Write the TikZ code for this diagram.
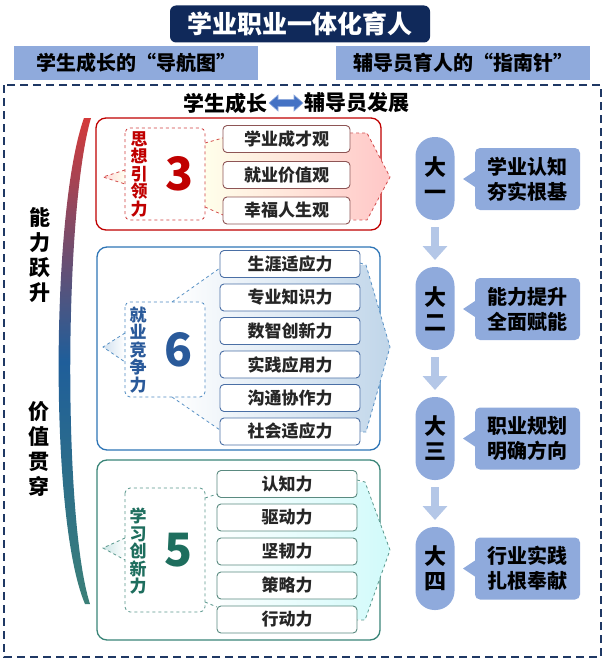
\documentclass[tikz,border=0pt]{standalone}
\usepackage{fontspec}
\setmainfont{Noto Sans CJK SC}
\usetikzlibrary{arrows.meta,calc}
\definecolor{navy}{HTML}{10295A}
\definecolor{frameblue}{HTML}{1F3864}
\definecolor{lblue}{HTML}{8FAADC}
\definecolor{llblue}{HTML}{B4C7E7}
\definecolor{arrblue}{HTML}{4472C4}
\definecolor{gred}{HTML}{C00000}
\definecolor{bred}{HTML}{D43A3A}
\definecolor{bmid}{HTML}{1F5E9A}
\definecolor{bbot}{HTML}{3C8078}
\definecolor{gblue}{HTML}{2E75B6}
\definecolor{gbluet}{HTML}{2A5A9A}
\definecolor{gteal}{HTML}{3A8578}
\definecolor{gtealt}{HTML}{1E6E5E}
\definecolor{ired}{HTML}{8E5555}
\definecolor{iblue}{HTML}{4A6FA5}
\definecolor{iteal}{HTML}{5A8A80}
\definecolor{txt}{HTML}{262626}
\begin{document}
\begin{tikzpicture}[x=1pt,y=-1pt,
  every node/.style={inner sep=0pt, outer sep=0pt},
  grp/.style={draw, line width=1.3pt, rounded corners=10pt, fill=white},
  inbox/.style={draw, dashed, line width=0.8pt, rounded corners=5pt},
  item/.style={draw, line width=0.9pt, rounded corners=4pt, fill=white, minimum height=27pt, text=txt, font=\fontsize{17}{20}\selectfont\bfseries},
  vtext/.style={align=center, font=\fontsize{17}{17.5}\selectfont\bfseries},
  bigdigit/.style={font=\fontsize{46}{50}\selectfont\bfseries},
  edash/.style={dashed, line width=0.8pt},
  pill/.style={fill=lblue, rounded corners=19pt, minimum width=39pt, minimum height=83pt, align=center, font=\fontsize{22}{25}\selectfont\bfseries},
  callout/.style={fill=lblue, rounded corners=5pt, minimum width=105pt, minimum height=62pt, align=center, font=\fontsize{20}{25}\selectfont\bfseries},
  downarr/.style={draw=llblue, line width=8pt, -{Triangle[width=24pt,length=14pt]}, shorten <=7pt, shorten >=7pt},
  sidetext/.style={align=center, font=\fontsize{21}{25}\selectfont\bfseries}
]
\useasboundingbox (0,0) rectangle (605,661);

% ---------- top ----------
\node[fill=navy, rounded corners=6pt, minimum width=260pt, minimum height=37pt, text=white, font=\fontsize{25}{28}\selectfont\bfseries] (title) at (300,24) {学业职业一体化育人};
\node[fill=lblue, minimum width=244pt, minimum height=34pt, font=\fontsize{20}{24}\selectfont\bfseries] (s1) at (136,63) {学生成长的“导航图”};
\node[fill=lblue, minimum width=254pt, minimum height=34pt, font=\fontsize{20}{24}\selectfont\bfseries] (s2) at (463,63) {辅导员育人的“指南针”};

\draw[frameblue, line width=2.2pt, dash pattern=on 8pt off 5pt] (4,85) rectangle (601,657);

\node[font=\fontsize{21}{24}\selectfont\bfseries, anchor=east] (hl) at (267,103) {学生成长};
\node[font=\fontsize{21}{24}\selectfont\bfseries, anchor=west] (hr) at (304,103) {辅导员发展};
\fill[arrblue, draw=lblue, line width=0.6pt]
  (269,103) -- (278,95) -- (278,99.5) -- (294,99.5) -- (294,95) -- (303,103)
  -- (294,111) -- (294,106.5) -- (278,106.5) -- (278,111) -- cycle;

% ---------- bracket ----------
\shade[top color=bred, bottom color=bbot, middle color=bmid]
  (84,118) .. controls (51,210) and (49,520) .. (85,604) -- (90,604) .. controls (63,520) and (64,210) .. (91,118) -- cycle;
\node[sidetext] (cap1) at (40,255) {能\\力\\跃\\升};
\node[sidetext] (cap2) at (39,449) {价\\值\\贯\\穿};

% ---------- group 1 ----------
\draw[grp, draw=gred] (96,118) rectangle (381,230);
\shade[left color=yellow!8!white, right color=red!22!white]
  (205,143) -- (223,137) -- (367,133) -- (390,177) -- (367,220) -- (223,215) -- (205,207) -- cycle;
\shade[left color=red!15!white, right color=yellow!6!white] (103,177) -- (125,170) -- (125,184) -- cycle;
\draw[edash, draw=gred!70!white] (125,170) -- (103,177) -- (125,184);
\draw[edash, draw=gred!70!white] (205,143) -- (223,138);
\draw[edash, draw=gred!70!white] (205,207) -- (223,215);
\draw[edash, draw=gred!70!white] (350,133) -- (367,133) -- (390,177) -- (367,220) -- (350,220);
\draw[inbox, draw=gred!75!white, fill=white] (125,128) rectangle (205,220);
\node[vtext, text=gred] (v1) at (139,174) {思\\想\\引\\领\\力};
\node[bigdigit, text=gred] (d1) at (180,174) {3};
\node[item, draw=ired, minimum width=127pt] (a1) at (286.5,139) {学业成才观};
\node[item, draw=ired, minimum width=127pt] (a2) at (286.5,175) {就业价值观};
\node[item, draw=ired, minimum width=127pt] (a3) at (286.5,210.5) {幸福人生观};

% ---------- group 2 ----------
\draw[grp, draw=gblue] (97,247) rectangle (380,450);
\shade[left color=white, right color=gblue!30!white]
  (172,302) -- (220,268) -- (366,265) -- (390,347) -- (366,432) -- (220,430) -- (172,397) -- cycle;
\shade[left color=gblue!22!white, right color=white] (103,347) -- (125,333) -- (125,362) -- cycle;
\draw[edash, draw=gblue!80!white] (125,333) -- (103,347) -- (125,362);
\draw[edash, draw=gblue!80!white] (172,302) -- (220,268);
\draw[edash, draw=gblue!80!white] (172,397) -- (220,430);
\draw[edash, draw=gblue!80!white] (360,263) -- (366,265) -- (390,347) -- (366,432) -- (360,432);
\draw[inbox, draw=gblue!85!white, fill=white] (125,302) rectangle (205,397);
\node[vtext, text=gbluet] (v2) at (138,350) {就\\业\\竞\\争\\力};
\node[bigdigit, text=gbluet] (d2) at (179,350) {6};
\node[item, draw=iblue, minimum width=140pt] (b1) at (290,264) {生涯适应力};
\node[item, draw=iblue, minimum width=140pt] (b2) at (290,297.5) {专业知识力};
\node[item, draw=iblue, minimum width=140pt] (b3) at (290,331) {数智创新力};
\node[item, draw=iblue, minimum width=140pt] (b4) at (290,364.5) {实践应用力};
\node[item, draw=iblue, minimum width=140pt] (b5) at (290,398) {沟通协作力};
\node[item, draw=iblue, minimum width=140pt] (b6) at (290,431.5) {社会适应力};

% ---------- group 3 ----------
\draw[grp, draw=gteal] (97,460) rectangle (380,640);
\shade[left color=white, right color=teal!22!cyan!18!white]
  (205,498) -- (217,494) -- (365,482) -- (390,550) -- (365,620) -- (217,607) -- (205,602) -- cycle;
\shade[left color=teal!20!white, right color=white] (103,548) -- (125,538) -- (125,560) -- cycle;
\draw[edash, draw=gteal!85!white] (125,538) -- (103,548) -- (125,560);
\draw[edash, draw=gteal!85!white] (205,498) -- (217,494);
\draw[edash, draw=gteal!85!white] (205,602) -- (217,607);
\draw[edash, draw=gteal!85!white] (357,480) -- (365,482) -- (390,550) -- (365,620) -- (357,620);
\draw[inbox, draw=gteal!85!white, fill=white] (125,488) rectangle (205,612);
\node[vtext, text=gtealt] (v3) at (138,551) {学\\习\\创\\新\\力};
\node[bigdigit, text=gtealt] (d3) at (179,550) {5};
\node[item, draw=iteal, minimum width=140pt] (c1) at (287,484) {认知力};
\node[item, draw=iteal, minimum width=140pt] (c2) at (287,517.5) {驱动力};
\node[item, draw=iteal, minimum width=140pt] (c3) at (287,551.5) {坚韧力};
\node[item, draw=iteal, minimum width=140pt] (c4) at (287,585.5) {策略力};
\node[item, draw=iteal, minimum width=140pt] (c5) at (287,619.5) {行动力};

% ---------- right column ----------
\node[pill] (y1) at (435,178.5) {大\\一};
\node[pill] (y2) at (435,308.5) {大\\二};
\node[pill] (y3) at (435,438.5) {大\\三};
\node[pill] (y4) at (435,568.5) {大\\四};
\draw[downarr] (y1) -- (y2);
\draw[downarr] (y2) -- (y3);
\draw[downarr] (y3) -- (y4);

\node[callout] (k1) at (527.5,179) {学业认知\\夯实根基};
\node[callout] (k2) at (527.5,309) {能力提升\\全面赋能};
\node[callout] (k3) at (527.5,438.5) {职业规划\\明确方向};
\node[callout] (k4) at (527.5,568.5) {行业实践\\扎根奉献};
\foreach \k in {k1,k2,k3,k4}{
  \fill[lblue] ([yshift=-8pt]\k.west) -- ([xshift=-12pt]\k.west) -- ([yshift=8pt]\k.west) -- cycle;
}
\end{tikzpicture}
\end{document}
